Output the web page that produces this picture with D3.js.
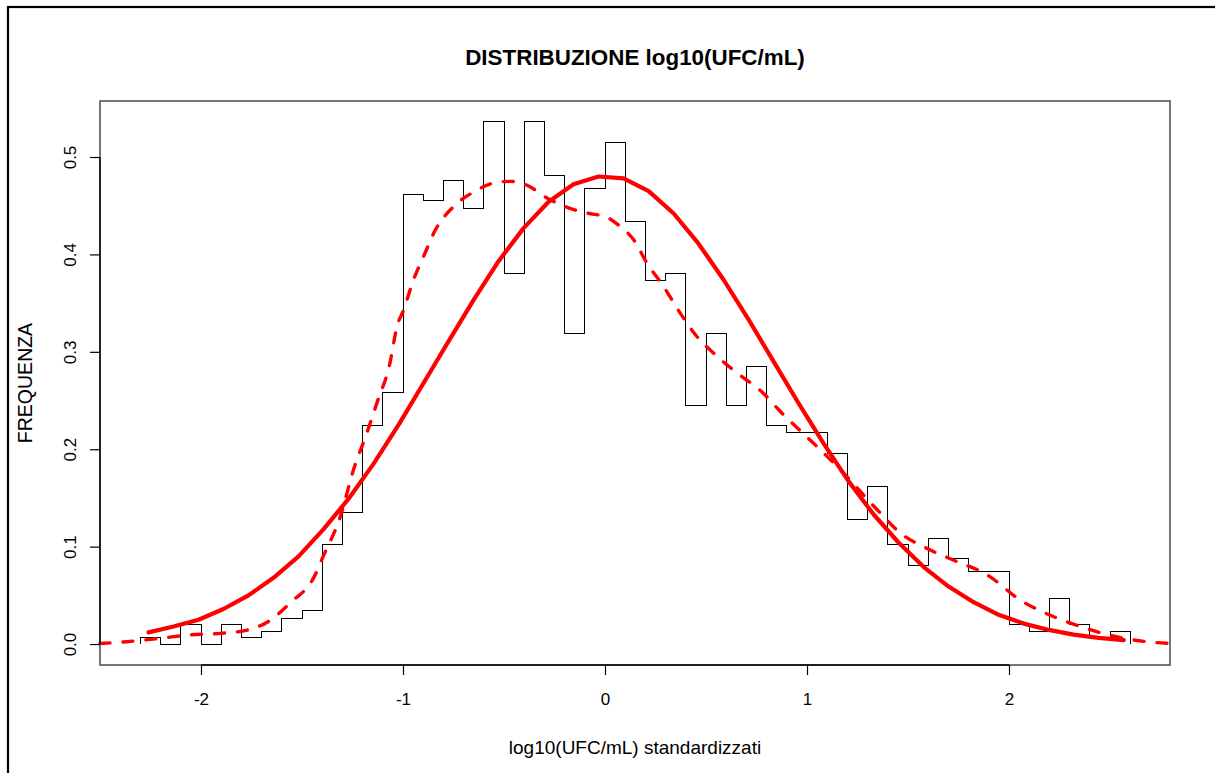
<!DOCTYPE html>
<html>
<head>
<meta charset="utf-8">
<script src="https://cdn.jsdelivr.net/npm/d3@7"></script>
<style>
    body { margin: 0; background: #fff; }
    svg text { font-family: "Liberation Sans", Arial, sans-serif; fill: #000; }
</style>
</head>
<body>
<div id="chart"></div>
<script>
// histogram: left edge of each 0.1-wide bin and its density
const binStarts = [-2.3, -2.2, -2.1, -2.0, -1.9, -1.8, -1.7, -1.6, -1.5, -1.4, -1.3, -1.2, -1.1,
    -1.0, -0.9, -0.8, -0.7, -0.6, -0.5, -0.4, -0.3, -0.2, -0.1, 0.0, 0.1, 0.2, 0.3, 0.4, 0.5, 0.6,
    0.7, 0.8, 0.9, 1.0, 1.1, 1.2, 1.3, 1.4, 1.5, 1.6, 1.7, 1.8, 1.9, 2.0, 2.1, 2.2, 2.3, 2.4, 2.5]
const binDensity = [0.007, 0.0, 0.020, 0.0, 0.020, 0.007, 0.013, 0.026, 0.034, 0.102, 0.135, 0.224, 0.258,
    0.462, 0.455, 0.476, 0.447, 0.536, 0.380, 0.536, 0.481, 0.319, 0.468, 0.515, 0.434, 0.373, 0.380, 0.245, 0.319, 0.245,
    0.285, 0.224, 0.217, 0.217, 0.196, 0.128, 0.162, 0.102, 0.081, 0.108, 0.088, 0.075, 0.075, 0.020, 0.013, 0.047, 0.020, 0.007, 0.013]
const binWidth = 0.1

// solid red curve (normal fit)
const normX = [-2.260, -2.136, -2.012, -1.889, -1.765, -1.641, -1.517, -1.393, -1.270, -1.146,
    -1.022, -0.898, -0.774, -0.651, -0.527, -0.403, -0.279, -0.156, -0.032, 0.092,
    0.216, 0.340, 0.463, 0.587, 0.711, 0.835, 0.959, 1.082, 1.206, 1.330,
    1.454, 1.578, 1.701, 1.825, 1.949, 2.073, 2.197, 2.320, 2.444, 2.568]
const normY = [0.012, 0.018, 0.025, 0.036, 0.050, 0.068, 0.090, 0.118, 0.149, 0.185,
    0.225, 0.268, 0.311, 0.353, 0.393, 0.427, 0.454, 0.472, 0.480, 0.478,
    0.465, 0.442, 0.411, 0.374, 0.333, 0.290, 0.247, 0.206, 0.167, 0.133,
    0.104, 0.079, 0.059, 0.043, 0.030, 0.021, 0.0145, 0.0097, 0.0063, 0.004]

// dashed red curve (kernel density)
const kdeX = [-2.50, -2.37, -2.16, -2.07, -1.90, -1.77, -1.66, -1.56, -1.44, -1.395, -1.31, -1.245, -1.18,
    -1.13, -1.063, -1.03, -0.997, -0.948, -0.898, -0.84, -0.75, -0.651, -0.535, -0.469, -0.386, -0.287,
    -0.155, -0.089, 0.01, 0.076, 0.142, 0.208, 0.29, 0.373, 0.456, 0.538, 0.637, 0.786, 0.869, 1.033,
    1.165, 1.347, 1.462, 1.595, 1.727, 1.892, 2.057, 2.222, 2.354, 2.519, 2.684, 2.797]
const kdeY = [0.0005, 0.0024, 0.0069, 0.0092, 0.0110, 0.0144, 0.024, 0.042, 0.069, 0.090, 0.131, 0.179, 0.216,
    0.247, 0.290, 0.326, 0.343, 0.374, 0.398, 0.425, 0.449, 0.464, 0.474, 0.475, 0.471, 0.458,
    0.446, 0.4425, 0.438, 0.4285, 0.415, 0.391, 0.367, 0.3395, 0.3155, 0.2985, 0.281, 0.257, 0.2385, 0.206,
    0.179, 0.138, 0.114, 0.098, 0.086, 0.071, 0.045, 0.028, 0.018, 0.008, 0.0024, 0.0007]

const xTicks = [-2, -1, 0, 1, 2]
const yTicks = [0.0, 0.1, 0.2, 0.3, 0.4, 0.5]
const titleText = "DISTRIBUZIONE log10(UFC/mL)"
const xLabel = "log10(UFC/mL) standardizzati"
const yLabel = "FREQUENZA"

const W = 1215, H = 773
const plot = { left: 100, top: 101, right: 1170, bottom: 665 }
const font = "'Liberation Sans', Arial, sans-serif"

const svg = d3.select("#chart").append("svg")
    .attr("width", W)
    .attr("height", H)

// outer frame of the figure
svg.append("rect")
    .attr("x", 8).attr("y", 7)
    .attr("width", W + 20).attr("height", H + 20)
    .attr("fill", "none")
    .attr("stroke", "#000")
    .attr("stroke-width", 2.2)

const x = d3.scaleLinear().domain([-2.5, 2.797]).range([plot.left, plot.right])
const y = d3.scaleLinear().domain([-0.0215, 0.5575]).range([plot.bottom, plot.top])

const g = svg.append("g")

// histogram drawn as a step outline
const last = binStarts.length - 1
const steps = [[binStarts[0], 0]]
    .concat(binStarts.map((s, i) => [s, binDensity[i]]))
    .concat([[binStarts[last] + binWidth, binDensity[last]], [binStarts[last] + binWidth, 0]])

g.append("path")
    .datum(steps)
    .attr("d", d3.line().x(d => x(d[0])).y(d => y(d[1])).curve(d3.curveStepAfter))
    .attr("fill", "none")
    .attr("stroke", "#000")
    .attr("stroke-width", 1)
    .attr("shape-rendering", "crispEdges")

g.append("path")
    .datum(kdeX.map((v, i) => [v, kdeY[i]]))
    .attr("d", d3.line().x(d => x(d[0])).y(d => y(d[1])).curve(d3.curveMonotoneX))
    .attr("fill", "none")
    .attr("stroke", "#ff0000")
    .attr("stroke-width", 3.4)
    .attr("stroke-linecap", "round")
    .attr("stroke-dasharray", "10,13")

g.append("path")
    .datum(normX.map((v, i) => [v, normY[i]]))
    .attr("d", d3.line().x(d => x(d[0])).y(d => y(d[1])))
    .attr("fill", "none")
    .attr("stroke", "#ff0000")
    .attr("stroke-width", 4.2)
    .attr("stroke-linejoin", "round")
    .attr("stroke-linecap", "round")

// plot box
svg.append("rect")
    .attr("x", plot.left).attr("y", plot.top)
    .attr("width", plot.right - plot.left)
    .attr("height", plot.bottom - plot.top)
    .attr("fill", "none")
    .attr("stroke", "#555")
    .attr("stroke-width", 1.6)

// x axis (plain hyphen for negatives)
const xAxis = svg.append("g")
    .attr("transform", `translate(0,${plot.bottom})`)
    .call(d3.axisBottom(x).tickValues(xTicks).tickSize(10).tickPadding(18).tickFormat(d => String(d)))
xAxis.select(".domain").attr("d", `M${x(-2)},0H${x(2)}`).attr("stroke", "#000").attr("stroke-width", 1.4)
xAxis.selectAll("line").attr("stroke", "#000").attr("stroke-width", 1.2)
xAxis.selectAll("text").attr("font-size", 17).style("font-family", font)

// y axis with rotated labels
const yAxis = svg.append("g")
    .attr("transform", `translate(${plot.left},0)`)
    .call(d3.axisLeft(y).tickValues(yTicks).tickSize(10).tickFormat(d3.format(".1f")))
yAxis.select(".domain").attr("d", `M0,${y(0)}V${y(0.5)}`).attr("stroke", "#000").attr("stroke-width", 1.4)
yAxis.selectAll("line").attr("stroke", "#000").attr("stroke-width", 1.2)
yAxis.selectAll("text")
    .attr("x", null).attr("dy", null)
    .attr("text-anchor", "middle")
    .attr("font-size", 17)
    .style("font-family", font)
    .attr("transform", "translate(-24,0) rotate(-90)")

// titles
svg.append("text")
    .attr("x", (plot.left + plot.right) / 2)
    .attr("y", 65)
    .attr("text-anchor", "middle")
    .attr("font-size", 22.4)
    .attr("font-weight", "bold")
    .text(titleText)

svg.append("text")
    .attr("x", (plot.left + plot.right) / 2)
    .attr("y", 754)
    .attr("text-anchor", "middle")
    .attr("font-size", 19)
    .text(xLabel)

svg.append("text")
    .attr("transform", `translate(32,${(plot.top + plot.bottom) / 2}) rotate(-90)`)
    .attr("text-anchor", "middle")
    .attr("font-size", 19.5)
    .text(yLabel)
</script>
</body>
</html>
